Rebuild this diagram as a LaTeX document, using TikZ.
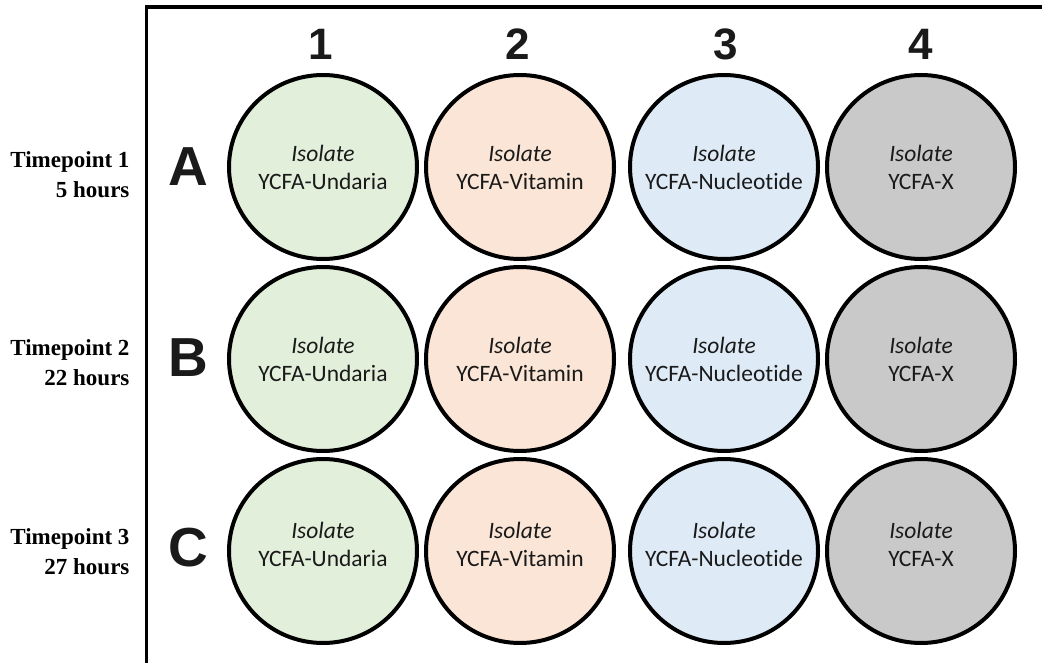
\documentclass[tikz,border=0pt]{standalone}
\usepackage{fontspec}
\setmainfont{Carlito}[Ligatures={NoCommon,NoContextual}, RawFeature={-liga;-clig}]
\newfontfamily\headfont{Liberation Sans}
\newfontfamily\timefont{Liberation Serif}
\usetikzlibrary{shapes.geometric}
\definecolor{wgreen}{HTML}{E2EFDA}
\definecolor{worange}{HTML}{FBE5D6}
\definecolor{wblue}{HTML}{DEEBF7}
\definecolor{wgray}{HTML}{C9C9C9}
\definecolor{txt}{HTML}{1A1A1A}
\tikzset{
  well/.style={ellipse, draw=black, line width=4pt, minimum width=188pt, minimum height=184pt,
    inner sep=0pt},
  welltext/.style={align=center, inner sep=0pt, text=txt, font=\fontsize{23.5}{28}\selectfont},
  colhead/.style={font=\headfont\bfseries\fontsize{44}{44}\selectfont, text=txt},
  rowhead/.style={font=\headfont\bfseries\fontsize{55}{55}\selectfont, text=txt},
  timelbl/.style={anchor=east, align=right, font=\timefont\bfseries\fontsize{23}{30}\selectfont},
  frame/.style={line width=3.2pt, line cap=rect}
}
\begin{document}
\begin{tikzpicture}[x=1pt,y=-1pt]
\useasboundingbox (0,0) rectangle (1042,663);
\coordinate (fb) at (146.5,663);
\coordinate (fc) at (146.5,7);
\coordinate (fr) at (1042,7);
\draw[frame] (fb) -- (fc) -- (fr);
% column headers
\node[colhead] (c1) at (321,44) {1};
\node[colhead] (c2) at (518,44) {2};
\node[colhead] (c3) at (726,44) {3};
\node[colhead] (c4) at (921,44) {4};
% row headers
\node[rowhead] (rA) at (188,167) {A};
\node[rowhead] (rB) at (188,358) {B};
\node[rowhead] (rC) at (188,548) {C};
% time labels
\node[timelbl] (tA) at (133,175) {Timepoint 1\\5 hours};
\node[timelbl] (tB) at (133,363) {Timepoint 2\\22 hours};
\node[timelbl] (tC) at (133,552) {Timepoint 3\\27 hours};
% wells
\foreach \r/\y/\t in {A/167/0,B/359/0,C/551/7}{
  \node[well, fill=wgreen]  (w\r1) at (323,\y) {};
  \node[well, fill=worange] (w\r2) at (520,\y) {};
  \node[well, fill=wblue]   (w\r3) at (724,\y) {};
  \node[well, fill=wgray]   (w\r4) at (921,\y) {};
  \node[welltext] (l\r1) at ([yshift=\t]w\r1.center) {\textit{Isolate}\\YCFA-Undaria};
  \node[welltext] (l\r2) at ([yshift=\t]w\r2.center) {\textit{Isolate}\\YCFA-Vitamin};
  \node[welltext] (l\r3) at ([yshift=\t]w\r3.center) {\textit{Isolate}\\YCFA-Nucleotide};
  \node[welltext] (l\r4) at ([yshift=\t]w\r4.center) {\textit{Isolate}\\YCFA-X};
}
\end{tikzpicture}
\end{document}
